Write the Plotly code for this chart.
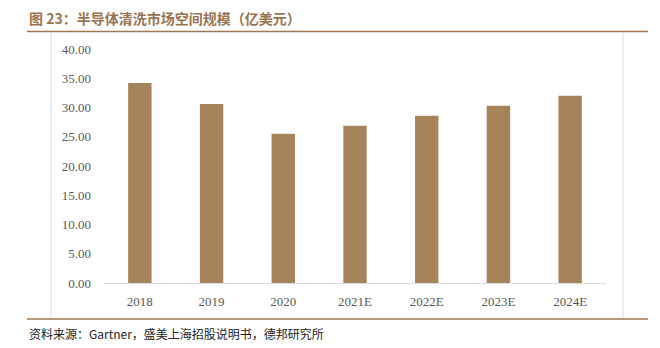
import plotly.graph_objects as go

# Semiconductor cleaning equipment market size (100 million USD)
years = ["2018", "2019", "2020", "2021E", "2022E", "2023E", "2024E"]
market_size = [34.2, 30.6, 25.5, 26.9, 28.6, 30.3, 32.0]
y_ticks = [0, 5, 10, 15, 20, 25, 30, 35, 40]

title_text = "图 23：半导体清洗市场空间规模（亿美元）"
source_text = "资料来源：Gartner，盛美上海招股说明书，德邦研究所"

W, H = 660, 348
L, R, T, B = 104, 54, 49, 65
PW, PH = W - L - R, H - T - B


def px_x(x):
    return (x - L) / PW


def px_y(y):
    return (H - B - y) / PH


BAR = "#A7835B"
BROWN = "#A0774F"
GRID = "#DCDCDC"

fig = go.Figure(
    go.Bar(
        x=years,
        y=market_size,
        marker=dict(color=BAR, line=dict(width=0)),
        hoverinfo="x+y",
    )
)

fig.update_layout(
    width=W,
    height=H,
    margin=dict(l=L, r=R, t=T, b=B),
    paper_bgcolor="white",
    plot_bgcolor="white",
    bargap=0.674,
    showlegend=False,
    xaxis=dict(
        showline=True,
        linecolor=GRID,
        linewidth=1,
        ticks="",
        showgrid=False,
        tickfont=dict(family="Liberation Serif", size=13, color="#595959"),
        ticklabelstandoff=6,
    ),
    yaxis=dict(
        range=[0, 40],
        tickvals=y_ticks,
        tickformat=".2f",
        showgrid=False,
        zeroline=False,
        showline=False,
        ticks="",
        tickfont=dict(family="Liberation Serif", size=13, color="#595959"),
        ticklabelstandoff=12,
    ),
    shapes=[
        # rule under the title
        dict(type="line", xref="paper", yref="paper",
             x0=px_x(27), x1=px_x(648), y0=px_y(31.5), y1=px_y(31.5),
             line=dict(color=BROWN, width=1.5)),
        # rule above the source note
        dict(type="line", xref="paper", yref="paper",
             x0=px_x(27), x1=px_x(648), y0=px_y(319), y1=px_y(319),
             line=dict(color=BROWN, width=1.5)),
        # light frame sides
        dict(type="line", xref="paper", yref="paper",
             x0=px_x(51), x1=px_x(51), y0=px_y(32.5), y1=px_y(318),
             line=dict(color=GRID, width=1)),
        dict(type="line", xref="paper", yref="paper",
             x0=px_x(623), x1=px_x(623), y0=px_y(32.5), y1=px_y(318),
             line=dict(color=GRID, width=1)),
    ],
    annotations=[
        dict(text="<b>" + title_text + "</b>", xref="paper", yref="paper",
             x=px_x(27), y=px_y(18), xanchor="left", yanchor="middle",
             showarrow=False,
             font=dict(family="Noto Sans CJK SC", size=14, color="#9A7450")),
        dict(text=source_text, xref="paper", yref="paper",
             x=px_x(27), y=px_y(333), xanchor="left", yanchor="middle",
             showarrow=False,
             font=dict(family="Noto Sans CJK SC", size=12, color="#222222")),
    ],
)

fig.write_html("out.html")
